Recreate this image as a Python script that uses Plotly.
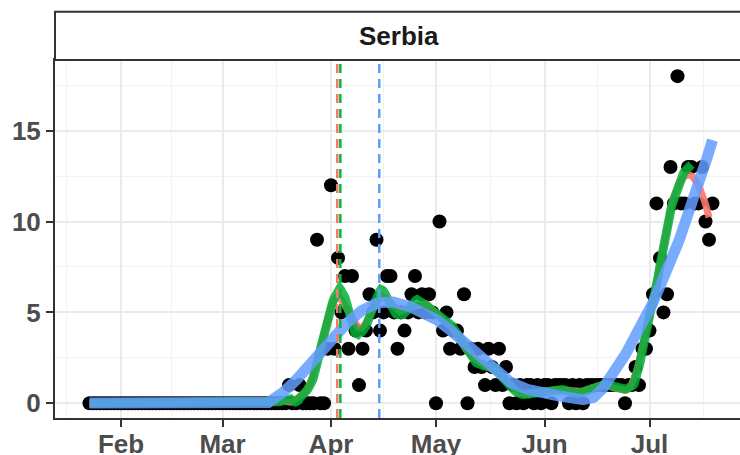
import numpy as np
import pandas as pd
import plotly.graph_objects as go

# ---------------- data ----------------
START_DATE = "2020-01-23"
COUNTRY = "Serbia"

# daily values, Jan 23 .. Jul 19
jan_feb_mar_zeros = [0, 0, 0, 0, 0, 0, 0, 0, 0,                     # Jan 23-31
                     0, 0, 0, 0, 0, 0, 0, 0, 0, 0, 0, 0, 0, 0, 0,   # Feb 1-15
                     0, 0, 0, 0, 0, 0, 0, 0, 0, 0, 0, 0, 0, 0,      # Feb 16-29
                     0, 0, 0, 0, 0, 0, 0, 0, 0, 0, 0, 0, 0, 0, 0,   # Mar 1-15
                     0, 0, 0, 0]                                    # Mar 16-19
late_march = [1, 0, 0, 1, 0, 0, 0, 0, 9, 0, 0, 3]
april = [12, 3, 8, 5, 7, 3, 7, 4, 1, 3,
         4, 6, 5, 9, 4, 5, 7, 7, 5, 3,
         5, 4, 5, 6, 7, 5, 6, 5, 6, 5]
may = [0, 10, 4, 5, 3, 4, 4, 3, 6, 0,
       3, 2, 3, 2, 1, 3, 2, 1, 3, 1,
       2, 0, 1, 0, 1, 0, 1, 1, 0, 1, 0]
june = [1, 1, 0, 1, 1, 1, 1, 0, 1, 0,
        1, 0, 1, 1, 1, 1, 1, 1, 1, 1,
        1, 1, 1, 0, 1, 1, 2, 1, 3, 3]
july = [4, 6, 11, 8, 5, 6, 13, 11, 18, 11,
        11, 13, 13, 11, 11, 13, 10, 9, 11]

values = jan_feb_mar_zeros + late_march + april + may + june + july

# fit windows / spans of the three smoothers
RED_SHOW_END = "2020-07-18"
GREEN_FIT_END = "2020-07-13"
RED_SPAN, GREEN_SPAN, BLUE_SPAN = 0.12, 0.10, 0.38

# peak dates (vertical dashed lines)
PEAK_RED = "2020-04-02 19:00"
PEAK_GREEN = "2020-04-03 16:00"
PEAK_BLUE = "2020-04-14 19:00"

# axis ticks
MONTH_TICKS = ["2020-02-01", "2020-03-01", "2020-04-01", "2020-05-01", "2020-06-01", "2020-07-01"]
MONTH_LABELS = ["Feb", "Mar", "Apr", "May", "Jun", "Jul"]
MONTH_BOUNDS = ["2020-01-01"] + MONTH_TICKS + ["2020-08-01"]
Y_TICKS = [0, 5, 10, 15]
Y_MINOR = [2.5, 7.5, 12.5, 17.5]

# ---------------- computations ----------------
dates = pd.date_range(START_DATE, periods=len(values), freq="D")
y = np.array(values, dtype=float)
t = (dates - dates[0]).days.values.astype(float)


def loess(x, yv, span, x_eval, degree=2):
    n = len(x)
    k = int(np.ceil(span * n))
    out = np.empty(len(x_eval))
    for j, x0 in enumerate(x_eval):
        d = np.abs(x - x0)
        h = np.sort(d)[k - 1] * 1.0001
        w = np.clip(1 - (d / h) ** 3, 0, None) ** 3
        X = np.vstack([(x - x0) ** p for p in range(degree + 1)]).T
        sw = np.sqrt(w)
        coef, *_ = np.linalg.lstsq(X * sw[:, None], yv * sw, rcond=None)
        out[j] = coef[0]
    return out


def smooth(fit_end, span, show_end=None, floor=None):
    m = dates <= pd.Timestamp(fit_end)
    xs, ys = t[m], y[m]
    last = xs[-1] if show_end is None else float((pd.Timestamp(show_end) - dates[0]).days)
    xe = np.linspace(xs[0], last, 600)
    fit = loess(xs, ys, span, xe)
    if floor is not None:
        fit = np.maximum(fit, floor)
    return dates[0] + pd.to_timedelta(xe, unit="D"), fit


last_day = str(dates[-1].date())
red_x, red_y = smooth(last_day, RED_SPAN, show_end=RED_SHOW_END)
green_x, green_y = smooth(GREEN_FIT_END, GREEN_SPAN)
blue_x, blue_y = smooth(last_day, BLUE_SPAN, floor=0.0)

mb = pd.to_datetime(MONTH_BOUNDS)
minor_x = list(mb[:-1] + (mb[1:] - mb[:-1]) / 2)

# ---------------- figure ----------------
fig = go.Figure()
fig.add_trace(go.Scatter(x=dates, y=y, mode="markers",
                         marker=dict(color="black", size=14, line=dict(width=0)),
                         showlegend=False, hoverinfo="skip"))
fig.add_trace(go.Scatter(x=red_x, y=red_y, mode="lines",
                         line=dict(color="rgba(248,118,109,0.9)", width=7),
                         showlegend=False, hoverinfo="skip"))
fig.add_trace(go.Scatter(x=green_x, y=green_y, mode="lines",
                         line=dict(color="rgba(0,176,56,0.85)", width=9),
                         showlegend=False, hoverinfo="skip"))
fig.add_trace(go.Scatter(x=blue_x, y=blue_y, mode="lines",
                         line=dict(color="rgba(97,156,255,0.85)", width=11),
                         showlegend=False, hoverinfo="skip"))

for xd, col in [(PEAK_RED, "#F8766D"), (PEAK_GREEN, "#00BA38"), (PEAK_BLUE, "#619CFF")]:
    fig.add_shape(type="line", xref="x", yref="paper", x0=xd, x1=xd, y0=0, y1=1,
                  line=dict(color=col, width=2.5, dash="9px,6px"), layer="above")

base = pd.Timestamp(START_DATE) - pd.Timedelta(days=1)
x_range = [base + pd.Timedelta(days=-8.857), base + pd.Timedelta(days=186.857)]

tickfont = dict(family="Liberation Sans, Arial, sans-serif", size=26, color="#4D4D4D", weight="bold")

fig.update_xaxes(range=x_range, tickvals=MONTH_TICKS, ticktext=MONTH_LABELS, automargin=False,
                 showgrid=True, gridcolor="#EBEBEB", gridwidth=1.6,
                 minor=dict(tickvals=minor_x, showgrid=True, gridcolor="#F2F2F2", gridwidth=1, ticks=""),
                 ticks="outside", ticklen=7, tickwidth=1.5, tickcolor="#333333",
                 ticklabelstandoff=-5,
                 showline=True, linecolor="#333333", linewidth=2, mirror=True,
                 zeroline=False, tickfont=tickfont)
fig.update_yaxes(range=[-0.81, 18.89], tickvals=Y_TICKS, automargin=False,
                 showgrid=True, gridcolor="#EBEBEB", gridwidth=1.6,
                 minor=dict(tickvals=Y_MINOR, showgrid=True, gridcolor="#F2F2F2", gridwidth=1, ticks=""),
                 ticks="outside", ticklen=7, tickwidth=1.5, tickcolor="#333333",
                 showline=True, linecolor="#333333", linewidth=2, mirror=False,
                 zeroline=False, tickfont=tickfont)

# facet strip
fig.add_shape(type="rect", xref="paper", yref="paper", x0=0, x1=1.05, y0=1, y1=1.1349,
              line=dict(color="#333333", width=2), fillcolor="white", layer="above")
fig.add_annotation(x=0.502, y=1.0684, xref="paper", yref="paper", text=COUNTRY,
                   showarrow=False, xanchor="center", yanchor="middle",
                   font=dict(family="Liberation Sans, Arial, sans-serif", size=26,
                             color="#1A1A1A", weight="bold"))

fig.update_layout(width=740, height=455, margin=dict(l=55, r=0, t=60, b=37),
                  paper_bgcolor="white", plot_bgcolor="white")

fig.write_html("out.html", config={"displayModeBar": False},
               post_script="document.body.style.margin='0px';document.body.style.overflow='hidden';")
